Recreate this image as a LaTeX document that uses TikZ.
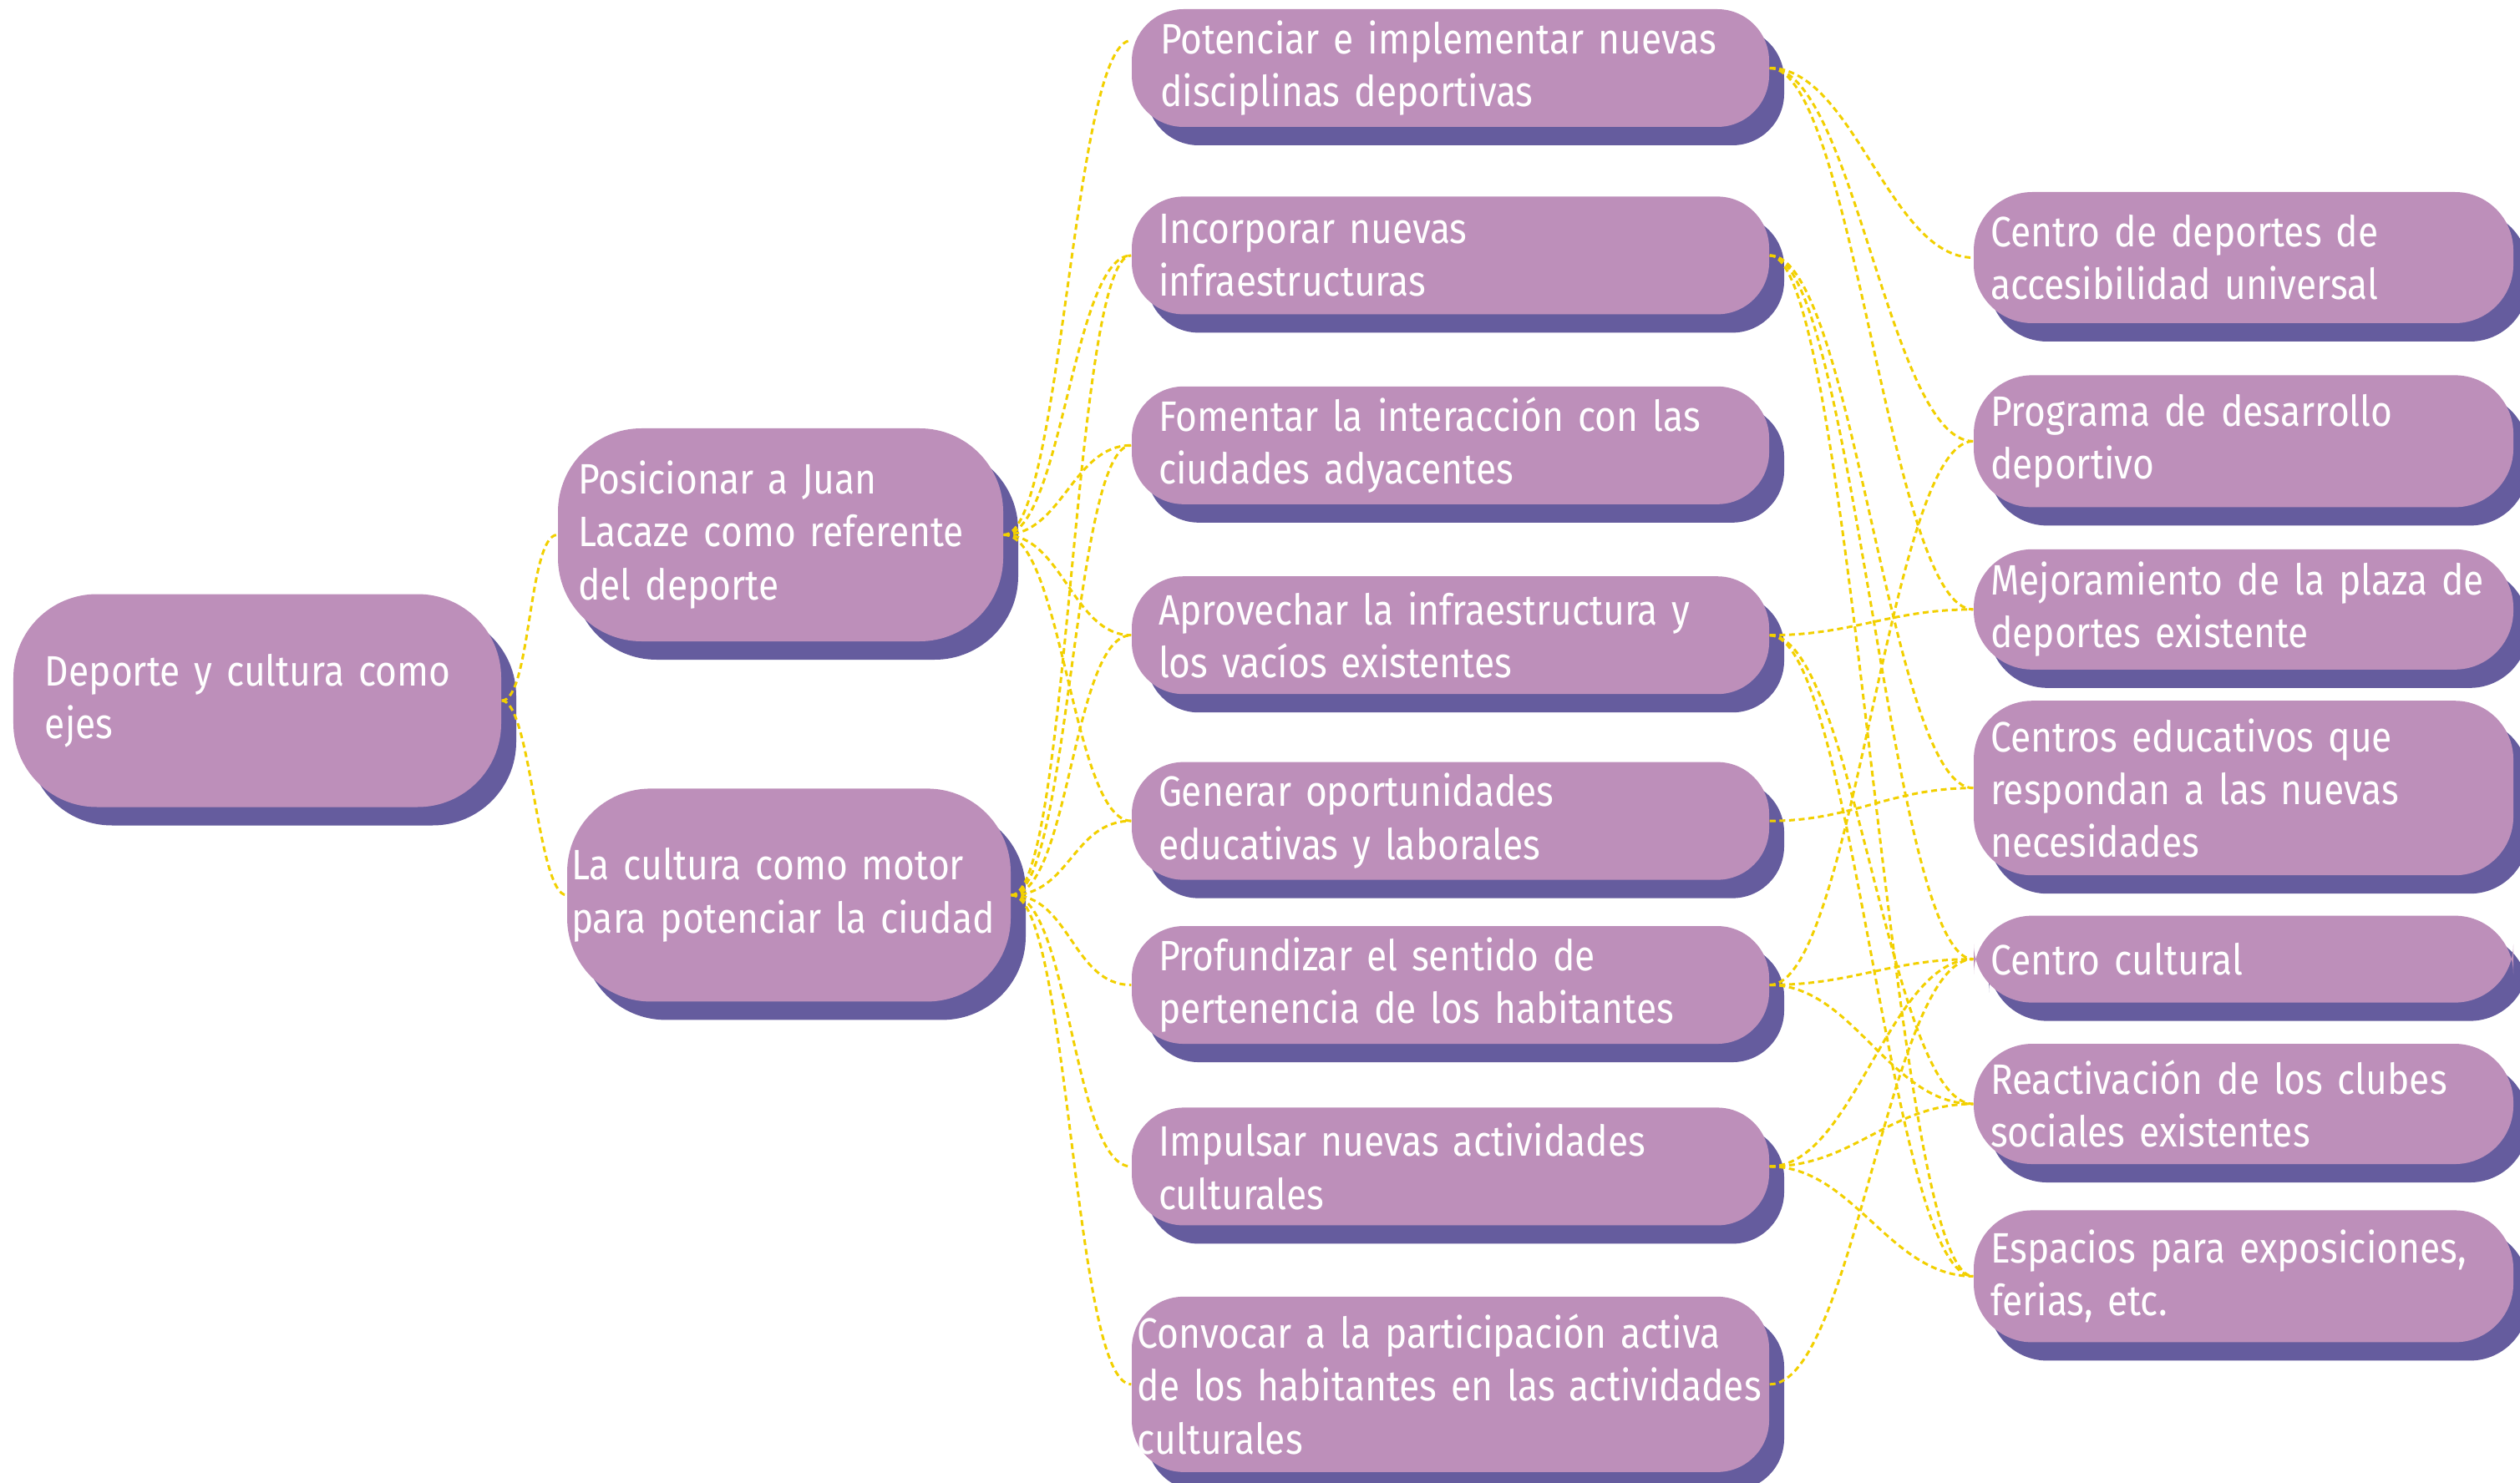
\documentclass[tikz,border=0pt]{standalone}
\usepackage{fontspec}
\setmainfont{Fira Sans}[FakeStretch=0.87]
\usetikzlibrary{positioning, shadows}

\definecolor{boxpurple}{RGB}{189,143,186}
\definecolor{shadowpurple}{RGB}{101,92,158}
\definecolor{linkyellow}{RGB}{242,208,0}
\hyphenpenalty=10000

\begin{document}
\begin{tikzpicture}[
    font=\fontsize{14.5}{18}\selectfont,
    % Styles
    basebox/.style={
        fill=boxpurple, text=white, align=left, inner ysep=2pt,
        drop shadow={shadow xshift=0.18cm, shadow yshift=-0.22cm,
                     fill=shadowpurple, opacity=1}
    },
    bigbox/.style={basebox, rounded corners=1cm, minimum height=2.55cm},
    midbox/.style={basebox, rounded corners=0.62cm, minimum height=1.41cm,
                   text width=6.99cm, inner xsep=0.32cm},
    sidebox/.style={basebox, rounded corners=0.7cm,
                    text width=6.06cm, inner xsep=0.2cm},
    link/.style={draw=linkyellow, line width=0.85pt,
                 dash pattern=on 2pt off 1.3pt},
    curvy/.style={to path={.. controls +(#1,0) and +(-#1,0) .. (\tikztotarget)}},
    curvy/.default=0.7cm
]
    \useasboundingbox (0,0) rectangle (30.17,-17.76);

    % --- Column 1: Axes ---
    \node[bigbox, text width=5.08cm, inner xsep=0.38cm] (ejes) at (3.08,-8.39)
        {Deporte y cultura como\\ejes};

    \node[bigbox, text width=4.85cm, inner xsep=0.24cm] (deporte) at (9.345,-6.405)
        {Posicionar a Juan\\Lacaze como referente\\del deporte};

    \node[bigbox, text width=5.21cm, inner xsep=0.05cm,
          below=1.75cm of deporte, xshift=0.1cm] (cultura)
        {La cultura como motor\\para potenciar la ciudad};

    % --- Column 2: Lines of action ---
    \node[midbox, text width=6.95cm, inner xsep=0.34cm] (disciplinas) at (17.365,-0.815)
        {Potenciar e implementar nuevas\\disciplinas deportivas};
    \node[midbox, below=0.82cm of disciplinas] (infra)
        {Incorporar nuevas\\infraestructuras};
    \node[midbox, below=0.85cm of infra] (interaccion)
        {Fomentar la interacción con las\\ciudades adyacentes};
    \node[midbox, below=0.85cm of interaccion] (vacios)
        {Aprovechar la infraestructura y\\los vacíos existentes};
    \node[midbox, below=0.80cm of vacios] (oportunidades)
        {Generar oportunidades\\educativas y laborales};
    \node[midbox, below=0.54cm of oportunidades] (pertenencia)
        {Profundizar el sentido de\\pertenencia de los habitantes};
    \node[midbox, below=0.75cm of pertenencia] (actividades)
        {Impulsar nuevas actividades\\culturales};
    \node[midbox, minimum height=2.1cm, text width=7.5cm, inner xsep=0.065cm,
          below=0.84cm of actividades] (participacion)
        {Convocar a la participación activa\\de los habitantes en las actividades\\culturales};

    % --- Column 3: Projects ---
    \node[sidebox, minimum height=1.57cm] (accesible) at (26.86,-3.085)
        {Centro de deportes de\\accesibilidad universal};
    \node[sidebox, minimum height=1.58cm, below=0.61cm of accesible] (programa)
        {Programa de desarrollo\\deportivo};
    \node[sidebox, minimum height=1.44cm, below=0.49cm of programa] (plaza)
        {Mejoramiento de la plaza de\\deportes existente};
    \node[sidebox, minimum height=2.09cm, below=0.36cm of plaza] (educativos)
        {Centros educativos que\\respondan a las nuevas\\necesidades};
    \node[sidebox, minimum height=1.04cm, below=0.47cm of educativos] (centrocult)
        {Centro cultural};
    \node[sidebox, minimum height=1.44cm, below=0.48cm of centrocult] (clubes)
        {Reactivación de los clubes\\sociales existentes};
    \node[sidebox, minimum height=1.58cm, below=0.54cm of clubes] (espacios)
        {Espacios para exposiciones,\\ferias, etc.};

    % --- Connections: axes ---
    \draw[link] (ejes.east) to[curvy=0.35cm] (deporte.west);
    \draw[link] (ejes.east) to[curvy=0.35cm] (cultura.west);

    \draw[link] (deporte.east) to[curvy] ([yshift=0.33cm]disciplinas.west);
    \draw[link] (deporte.east) to[curvy] (infra.west);
    \draw[link] (deporte.east) to[curvy] (interaccion.west);
    \draw[link] (deporte.east) to[curvy] (vacios.west);
    \draw[link] (deporte.east) to[curvy] (oportunidades.west);

    \draw[link] (cultura.east) to[curvy] (infra.west);
    \draw[link] (cultura.east) to[curvy] (interaccion.west);
    \draw[link] (cultura.east) to[curvy] (vacios.west);
    \draw[link] (cultura.east) to[curvy] (oportunidades.west);
    \draw[link] (cultura.east) to[curvy] (pertenencia.west);
    \draw[link] (cultura.east) to[curvy] (actividades.west);
    \draw[link] (cultura.east) to[curvy] (participacion.west);

    % --- Connections: projects ---
    \draw[link] (disciplinas.east) to[curvy=1cm] (accesible.west);
    \draw[link] (disciplinas.east) to[curvy=1cm] (programa.west);
    \draw[link] (disciplinas.east) to[curvy=1cm] (plaza.west);

    \draw[link] (infra.east) to[curvy=1cm] (educativos.west);
    \draw[link] (infra.east) to[curvy=1cm] (centrocult.west);
    \draw[link] (infra.east) to[curvy=1cm] (espacios.west);

    \draw[link] (vacios.east) to[curvy=1cm] (plaza.west);
    \draw[link] (vacios.east) to[curvy=1cm] (clubes.west);
    \draw[link] (vacios.east) to[curvy=1cm] (espacios.west);

    \draw[link] (oportunidades.east) to[curvy=1cm] (educativos.west);

    \draw[link] (pertenencia.east) to[curvy=1cm] (programa.west);
    \draw[link] (pertenencia.east) to[curvy=1cm] (centrocult.west);
    \draw[link] (pertenencia.east) to[curvy=1cm] (clubes.west);

    \draw[link] (actividades.east) to[curvy=1cm] (centrocult.west);
    \draw[link] (actividades.east) to[curvy=1cm] (clubes.west);
    \draw[link] (actividades.east) to[curvy=1cm] (espacios.west);

    \draw[link] (participacion.east) to[curvy=1cm] (centrocult.west);

\end{tikzpicture}
\end{document}
